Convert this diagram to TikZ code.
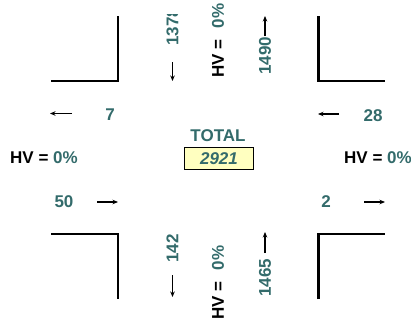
\documentclass[tikz,border=0pt]{standalone}
\usepackage{fontspec}
\setmainfont{Liberation Sans}
\usetikzlibrary{arrows.meta}
\definecolor{teal}{HTML}{336B6B}
\definecolor{boxfill}{HTML}{FFFFC0}
\begin{document}
\begin{tikzpicture}[x=1pt,y=-1pt,
  curb/.style={line width=2.2pt,line join=miter},
  flow/.style={line width=1.2pt,-{Stealth[length=5.5pt,width=4.5pt]}},
  vol/.style={font=\fontsize{17}{20}\selectfont\bfseries,text=teal,inner sep=0pt},
  hv/.style={font=\fontsize{17}{20}\selectfont\bfseries,text=black,inner sep=0pt},
  vrot/.style={rotate=90}]
\useasboundingbox (0,0) rectangle (411,322);
\clip (0,0) rectangle (411,322);
% curbs
\draw[curb] (51,81) -- (118,81) -- (118,16);
\draw[curb] (318.5,16) -- (318.5,81) -- (385,81);
\draw[curb] (51,234) -- (118,234) -- (118,299);
\draw[curb] (318.5,299) -- (318.5,234) -- (385,234);
% top approach
\begin{scope}
\clip (150,14) rectangle (195,100);
\node[vol,vrot,anchor=west] (n1378) at (172.5,46) {1378};
\end{scope}
\node[hv,vrot] (hvN) at (218,40.5) {HV =\hspace{0.65em}\textcolor{teal}{0\%}};
\node[vol,vrot,anchor=west] (n1490) at (265,75) {1490};
\coordinate (nd1) at (172.5,62); \coordinate (nd2) at (172.5,81);
\coordinate (nu1) at (265,36); \coordinate (nu2) at (265,16);
\draw[flow] (nd1) -- (nd2);
\draw[flow] (nu1) -- (nu2);
% bottom approach
\begin{scope}
\clip (150,234.5) rectangle (195,300);
\node[vol,vrot,anchor=west] (n1422) at (172.5,263) {1422};
\end{scope}
\node[hv,vrot] (hvS) at (218,282.5) {HV =\hspace{0.65em}\textcolor{teal}{0\%}};
\node[vol,vrot,anchor=west] (n1465) at (265,297) {1465};
\coordinate (sd1) at (172.5,275); \coordinate (sd2) at (172.5,297);
\coordinate (su1) at (265,253); \coordinate (su2) at (265,232);
\draw[flow] (sd1) -- (sd2);
\draw[flow] (su1) -- (su2);
% west approach
\node[vol] (n7) at (110,115) {7};
\node[vol] (n50) at (64,202) {50};
\node[hv,anchor=west] (hvW) at (10,158) {HV =\hspace{0.28em}\textcolor{teal}{0\%}};
\coordinate (wl1) at (72,113.5); \coordinate (wl2) at (50,113.5);
\coordinate (wr1) at (97,202); \coordinate (wr2) at (118,202);
\draw[flow] (wl1) -- (wl2);
\draw[flow] (wr1) -- (wr2);
% east approach
\node[vol] (n28) at (373,116) {28};
\node[vol] (n2) at (326,202) {2};
\node[hv,anchor=west] (hvE) at (344,158) {HV =\hspace{0.28em}\textcolor{teal}{0\%}};
\coordinate (el1) at (339,114); \coordinate (el2) at (318,114);
\coordinate (er1) at (364,202); \coordinate (er2) at (385,202);
\draw[flow] (el1) -- (el2);
\draw[flow] (er1) -- (er2);
% total
\node[vol] (total) at (218,136) {TOTAL};
\node[draw=black,line width=1.6pt,fill=boxfill,minimum width=69pt,minimum height=22pt,inner sep=0pt,
  font=\fontsize{17}{20}\selectfont\bfseries\itshape,text=teal] (tot) at (219,158.5) {2921};
\end{tikzpicture}
\end{document}
